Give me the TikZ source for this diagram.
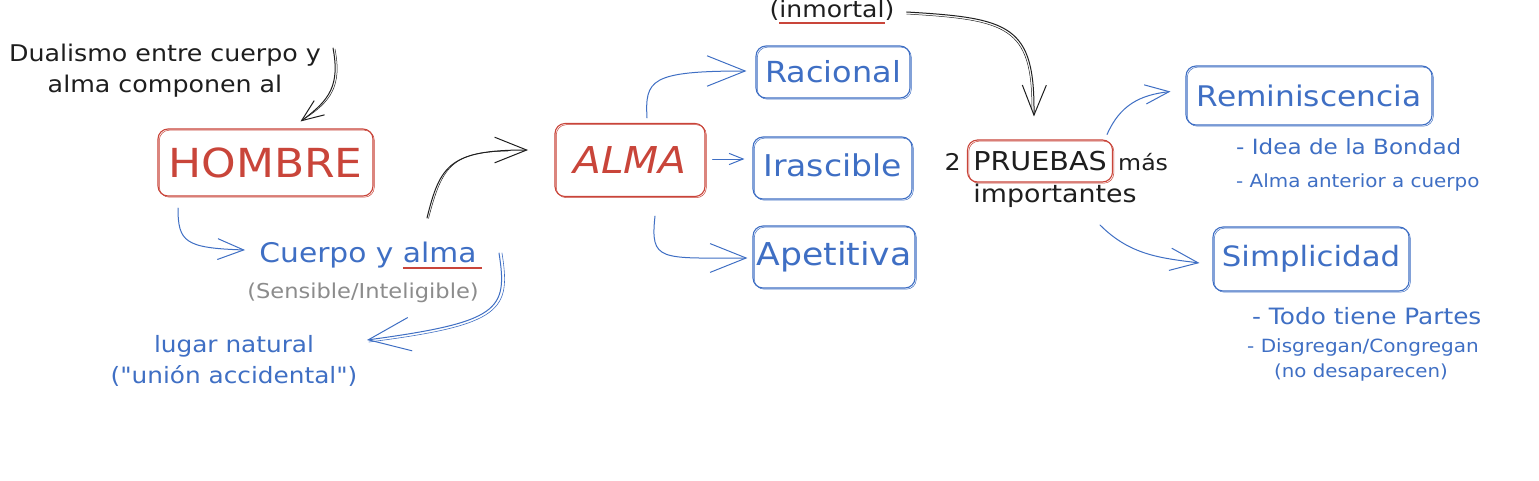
\documentclass[tikz,border=0pt]{standalone}
\usepackage{fontspec}
\setmainfont{DejaVu Sans}[FakeStretch=1.1, Ligatures=TeXOff]
\usetikzlibrary{arrows.meta,calc}
\definecolor{xred}{HTML}{C9453A}
\definecolor{xblue}{HTML}{3F6FC4}
\definecolor{xgray}{HTML}{8C8C8C}
\definecolor{xblack}{HTML}{1E1E1E}
\newcommand\redul[2][0pt]{\setbox0\hbox{#2}\rlap{\raisebox{-6.5pt}{\textcolor{xred}{\rule{\dimexpr\wd0+#1\relax}{1.5pt}}}}\box0}
\newcommand\fs[1]{\fontsize{#1}{#1}\selectfont}
\begin{document}
\begin{tikzpicture}[x=1pt,y=-1pt,
  txt/.style={inner sep=0pt, align=center},
  boxbase/.style={line width=1.1pt, rounded corners=10pt, inner sep=0pt,
    preaction={draw, line width=0.5pt, transform canvas={xshift=1.3pt,yshift=-1.2pt}}},
  redbox/.style={boxbase, draw=xred},
  bluebox/.style={boxbase, draw=xblue, text=xblue},
  conn/.style={line width=1pt, line cap=round},
  barb/.style={-{Straight Barb[length=#1pt,width=0.8*#1pt]}},
  ]
\useasboundingbox (0,0) rectangle (1539,480);
\fill[white] (0,0) rectangle (1539,480);

% texts
\node[txt, text=xblack, font=\fs{23}, align=center] (dual) at (165,71)
  {Dualismo entre cuerpo y\\[8pt]alma componen al};
\node[redbox, minimum width=215pt, minimum height=67pt, text=xred, font=\fs{40}] (hombre) at (265.5,162.5) {HOMBRE};
\node[txt, text=xblue, font=\fs{27}] (cuerpo) at (368,255) {Cuerpo y \redul[5pt]{alma}};
\node[txt, text=xgray, font=\fs{20.5}] (sens) at (363,293) {(Sensible/Inteligible)};
\node[txt, text=xblue, font=\fs{22.5}] (lugar) at (234,361) {lugar natural\\[8pt]("unión accidental")};
\node[redbox, minimum width=150pt, minimum height=73pt, text=xred, font=\fs{37}\itshape] (alma) at (630,160) {ALMA};
\node[bluebox, minimum width=154pt, minimum height=52pt, font=\fs{29}] (racional) at (833,72) {Racional};
\node[bluebox, minimum width=159pt, minimum height=62pt, font=\fs{30}] (irascible) at (832.5,168) {\raisebox{5pt}{Irascible}};
\node[bluebox, minimum width=162pt, minimum height=62pt, font=\fs{31.5}] (apetitiva) at (834,257) {Apetitiva};
\node[txt, text=xblack, font=\fs{22.8}] (inmortal) at (832,12) {(\redul{inmortal})};
\node[redbox, minimum width=145pt, minimum height=42pt, text=xblack, font=\fs{26}] (pruebas) at (1040,161) {PRUEBAS};
\node[txt, text=xblack, font=\fs{23}, anchor=east] (dos) at (961,162) {2};
\node[txt, text=xblack, font=\fs{21.5}, anchor=west] (mas) at (1118,162) {más};
\node[txt, text=xblack, font=\fs{24.4}] (import) at (1055,196) {importantes};
\node[bluebox, minimum width=246pt, minimum height=59pt, font=\fs{28.4}] (remin) at (1309,95.5) {Reminiscencia};
\node[txt, text=xblue, font=\fs{21}, anchor=west] (idea) at (1236,147) {- Idea de la Bondad};
\node[txt, text=xblue, font=\fs{18.1}, anchor=west] (anterior) at (1236,183) {- Alma anterior a cuerpo};
\node[bluebox, minimum width=196pt, minimum height=64pt, font=\fs{28}] (simpl) at (1311,259) {Simplicidad};
\node[txt, text=xblue, font=\fs{22.5}, anchor=west] (todo) at (1252,316) {- Todo tiene Partes};
\node[txt, text=xblue, font=\fs{18.2}, anchor=west] (disg) at (1247,347) {- Disgregan/Congregan};
\node[txt, text=xblue, font=\fs{18}] (nodes) at (1361,373) {(no desaparecen)};

% free ends
\coordinate (c1) at (333,48);
\coordinate (c2) at (178,208);
\coordinate (c3) at (245,250);
\coordinate (c4) at (499,253);
\coordinate (c5) at (367,340);
\coordinate (c6) at (427,218);
\coordinate (c7) at (528,150);
\coordinate (c8) at (1100,225);

% connectors
\draw[conn, xblack, barb=22] (c1) .. controls (340,85) and (330,100) .. ($(hombre.north)+(35,-7)$);
\draw[conn, xblack, line width=0.5pt] ($(c1)+(2,1)$) .. controls (342,85) and (332,102) .. ($(hombre.north)+(36,-8)$);
\draw[conn, xblue, barb=26] (c2) .. controls (178,242) and (185,248) .. (c3);
\draw[conn, xblue, barb=42] (c4) .. controls (508,310) and (500,322) .. (c5);
\draw[conn, xblue, line width=0.6pt] ($(c4)+(3,0)$) .. controls (511,310) and (503,325) .. ($(c5)+(2,2)$);
\draw[conn, xblack, barb=32] (c6) .. controls (440,165) and (450,150) .. (c7);
\draw[conn, xblack, line width=0.5pt] ($(c6)+(1.5,0.5)$) .. controls (442,166) and (452,152) .. ($(c7)+(-20,1)$);
\draw[conn, xblue, barb=38] ($(alma.north)+(17,-5)$) .. controls (645,80) and (650,71) .. ($(racional.west)+(-9,-1)$);
\draw[conn, xblue, barb=14] ($(alma.east)+(7,-1)$) -- ($(irascible.west)+(-8,-9)$);
\draw[conn, xblue, barb=36] ($(alma.south)+(25,19)$) .. controls (650,262) and (660,258) .. ($(apetitiva.west)+(-5,1)$);
\draw[conn, xblack, barb=30] ($(inmortal.east)+(12,0)$) .. controls (1010,18) and (1035,25) .. ($(pruebas.north west)+(67,-23)$);
\draw[conn, xblack, line width=0.5pt] ($(inmortal.east)+(12,2)$) .. controls (1008,20) and (1032,27) .. ($(pruebas.north west)+(65,-30)$);
\draw[conn, xblue, barb=24] ($(pruebas.north east)+(-6,-5)$) .. controls (1120,105) and (1140,95) .. ($(remin.west)+(-15,-4)$);
\draw[conn, xblue, barb=28] (c8) .. controls (1130,255) and (1160,258) .. ($(simpl.west)+(-13,4)$);
\end{tikzpicture}
\end{document}
